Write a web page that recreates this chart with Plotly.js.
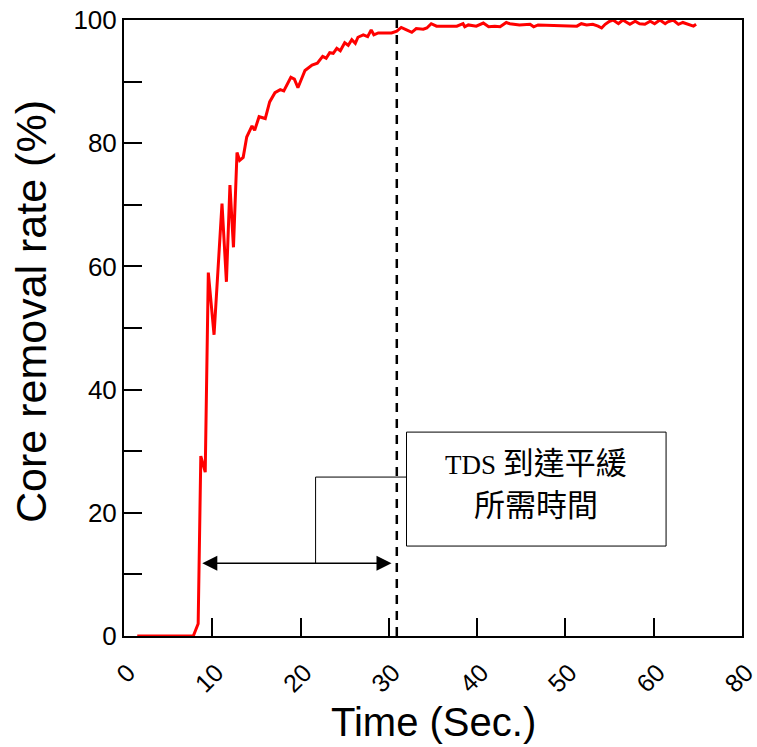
<!DOCTYPE html>
<html>
<head>
<meta charset="utf-8">
<script src="https://cdn.plot.ly/plotly-3.0.1.min.js"></script>
<style>html,body{margin:0;padding:0;background:#fff;}#chart{width:757px;height:747px;}</style>
</head>
<body>
<div id="chart"></div>
<script>
// Time (s) and core removal rate (%)
const timeSec = [1.5, 7.85, 8.4, 8.7, 9.2, 9.55, 10.2, 11.1, 11.6, 12.0, 12.4, 12.8, 13.1, 13.5, 13.9,
  14.5, 14.8, 15.3, 16.0, 16.5, 17.1, 17.7, 18.1, 18.9, 19.3, 19.7, 20.5, 21.3, 21.9, 22.5, 22.9,
  23.3, 23.7, 24.1, 24.5, 25.0, 25.4, 25.8, 26.2, 26.5, 27.1, 27.6, 28.0, 28.3, 28.8, 30.3, 30.9,
  31.4, 32.0, 32.6, 33.1, 33.9, 34.3, 34.8, 35.4, 37.7, 38.4, 38.6, 39.0, 39.9, 40.7, 41.3, 42.0,
  42.6, 43.3, 43.7, 44.8, 46.0, 46.4, 46.9, 51.3, 51.8, 52.4, 53.1, 53.7, 54.1, 54.5, 55.0, 55.4,
  56.0, 56.5, 57.3, 57.9, 58.4, 59.0, 59.6, 60.1, 60.7, 61.3, 61.6, 62.2, 62.8, 63.3, 64.1, 64.5, 64.8];
const removalRate = [0, 0, 2, 29.2, 26.6, 59.0, 48.9, 70.2, 57.5, 73.2, 63.1, 78.5, 77.2, 77.7, 81.0,
  82.8, 82.1, 84.3, 84.0, 86.7, 88.2, 88.7, 88.5, 90.7, 90.4, 89.0, 91.8, 92.7, 93.0, 94.1, 93.8,
  94.7, 94.6, 95.4, 95.0, 96.3, 95.9, 96.8, 96.2, 97.2, 97.6, 97.3, 98.4, 97.6, 97.9, 97.9, 98.2,
  98.8, 98.4, 98.0, 98.6, 98.5, 98.7, 99.4, 99.0, 99.0, 99.4, 98.9, 99.2, 99.0, 99.5, 98.9, 99.0,
  98.9, 99.6, 99.4, 99.2, 99.3, 98.9, 99.2, 99.0, 99.4, 99.2, 99.3, 99.0, 98.7, 99.3, 99.8, 100,
  99.4, 100, 99.3, 99.8, 99.4, 99.3, 99.8, 99.4, 100, 99.4, 99.7, 100, 99.3, 99.6, 99.2, 99.0, 99.3];

// Axis ticks (the original figure labels its last tick "80")
const xTickVals = [0, 10, 20, 30, 40, 50, 60, 70];
const xTickText = ['0', '10', '20', '30', '40', '50', '60', '80'];
const yTickVals = [0, 10, 20, 30, 40, 50, 60, 70, 80, 90, 100];
const yTickText = ['0', '', '20', '', '40', '', '60', '', '80', '', '100'];
const xTitle = 'Time (Sec.)';
const yTitle = 'Core removal rate (%)';

// Annotation values
const onsetTime = 8.7;       // start of rise
const plateauTime = 30.9;    // TDS reaches plateau (dashed line)
const arrowEnd = 30.3;
const arrowLevel = 11.8;
const bracketX = 21.7;
const bracketLevel = 25.8;
const boxX = [32.0, 61.4];
const boxY = [14.6, 33.1];
const labelLines = ['TDS', '到達平緩', '所需時間'];
const labelY = [28.0, 21.2];

const sans = 'Liberation Sans, Arial, sans-serif';
const serif = 'Liberation Serif, Times New Roman, Noto Sans CJK TC, serif';

const trace = {
  x: timeSec, y: removalRate, type: 'scatter', mode: 'lines',
  line: {color: '#ff0000', width: 3}, hoverinfo: 'skip', showlegend: false
};

const layout = {
  width: 757, height: 747,
  margin: {l: 124, r: 15, t: 20, b: 111},
  paper_bgcolor: '#ffffff', plot_bgcolor: '#ffffff',
  showlegend: false,
  xaxis: {
    range: [0, 70], tickmode: 'array', tickvals: xTickVals, ticktext: xTickText,
    ticks: 'inside', ticklen: 18, tickwidth: 2, tickcolor: '#000',
    showline: true, linewidth: 2, linecolor: '#000', mirror: true,
    showgrid: false, zeroline: false, tickangle: -45,
    ticklabelshift: 4, ticklabelstandoff: 10, ticklabeloverflow: 'allow',
    tickfont: {family: sans, size: 25, color: '#000'}
  },
  yaxis: {
    range: [0, 100], tickmode: 'array', tickvals: yTickVals, ticktext: yTickText,
    ticks: 'inside', ticklen: 18, tickwidth: 2, tickcolor: '#000',
    showline: true, linewidth: 2, linecolor: '#000', mirror: true,
    showgrid: false, zeroline: false,
    tickfont: {family: sans, size: 26, color: '#000'}
  },
  shapes: [
    {type: 'line', xref: 'x', yref: 'y', x0: plateauTime, x1: plateauTime, y0: 0, y1: 100,
     line: {color: '#000', width: 2.5, dash: '9px,7px'}},
    {type: 'line', xref: 'x', yref: 'y', x0: bracketX, x1: bracketX, y0: arrowLevel, y1: bracketLevel,
     line: {color: '#000', width: 1}},
    {type: 'line', xref: 'x', yref: 'y', x0: bracketX, x1: boxX[0], y0: bracketLevel, y1: bracketLevel,
     line: {color: '#000', width: 1}},
    {type: 'rect', xref: 'x', yref: 'y', x0: boxX[0], x1: boxX[1], y0: boxY[0], y1: boxY[1],
     line: {color: '#000', width: 1}, fillcolor: '#ffffff'}
  ],
  annotations: [
    {x: arrowEnd, y: arrowLevel, ax: onsetTime, ay: arrowLevel, xref: 'x', yref: 'y', axref: 'x', ayref: 'y',
     text: '', showarrow: true, arrowhead: 2, startarrowhead: 2, arrowside: 'end+start',
     arrowsize: 2.0, startarrowsize: 2.0, arrowwidth: 1.5, arrowcolor: '#000'},
    {x: (boxX[0] + boxX[1]) / 2, y: labelY[0], xref: 'x', yref: 'y', showarrow: false,
     text: labelLines[0] + ' <span style="font-size:31px">' + labelLines[1] + '</span>',
     font: {family: serif, size: 27, color: '#000'}},
    {x: (boxX[0] + boxX[1]) / 2, y: labelY[1], xref: 'x', yref: 'y', showarrow: false,
     text: labelLines[2], font: {family: serif, size: 31, color: '#000'}},
    {x: 0.5, y: -0.139, xref: 'paper', yref: 'paper', xanchor: 'center', yanchor: 'middle',
     showarrow: false, text: xTitle, font: {family: sans, size: 40, color: '#000'}},
    {x: 0, y: 0.526, xref: 'paper', yref: 'paper', xanchor: 'center', yanchor: 'middle', xshift: -93,
     textangle: -90, showarrow: false, text: yTitle, font: {family: sans, size: 43, color: '#000'}}
  ]
};

Plotly.newPlot('chart', [trace], layout, {staticPlot: true, displayModeBar: false});
</script>
</body>
</html>
